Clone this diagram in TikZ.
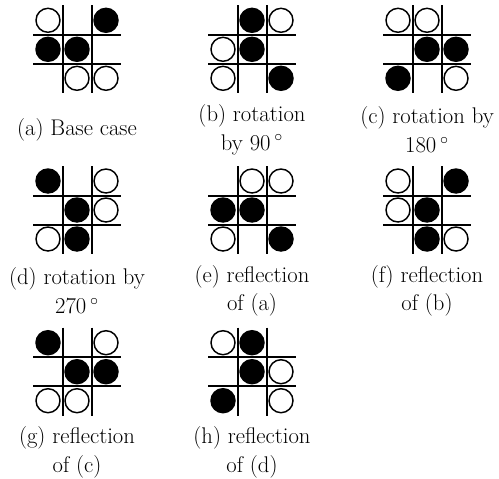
\documentclass[tikz,border=0pt]{standalone}
\usepackage{tikz}

\begin{document}
\begin{tikzpicture}[x=0.75pt,y=-0.75pt,
  boardline/.style={line width=1.5pt},
  bstone/.style={fill=black, draw=black, line width=1.1pt},
  wstone/.style={fill=white, draw=black, line width=1.1pt},
  caption/.style={align=center, font=\fontsize{17}{21.4}\selectfont, inner sep=0pt}]
\useasboundingbox (0,0) rectangle (499,478);
% (a)
\begin{scope}[shift={(77,49.3)}]
\draw[boardline] (-14.5,-44) -- (-14.5,44) (14.5,-44) -- (14.5,44);
\draw[boardline] (-44,-14.5) -- (44,-14.5) (-44,14.5) -- (44,14.5);
\filldraw[wstone] (-29,-29) circle (12);
\filldraw[bstone] (29,-29) circle (12);
\filldraw[bstone] (-29,0) circle (12);
\filldraw[bstone] (0,0) circle (12);
\filldraw[wstone] (0,29) circle (12);
\filldraw[wstone] (29,29) circle (12);
\end{scope}
\node[caption] (cap-a) at (77,129.8) {(a) Base case};
% (b)
\begin{scope}[shift={(252,49.3)}]
\draw[boardline] (-14.5,-44) -- (-14.5,44) (14.5,-44) -- (14.5,44);
\draw[boardline] (-44,-14.5) -- (44,-14.5) (-44,14.5) -- (44,14.5);
\filldraw[bstone] (0,-29) circle (12);
\filldraw[wstone] (29,-29) circle (12);
\filldraw[wstone] (-29,0) circle (12);
\filldraw[bstone] (0,0) circle (12);
\filldraw[wstone] (-29,29) circle (12);
\filldraw[bstone] (29,29) circle (12);
\end{scope}
\node[caption] (cap-b) at (252,129.8) {(b) rotation\\by 90\,$^\circ$};
% (c)
\begin{scope}[shift={(427,49.3)}]
\draw[boardline] (-14.5,-44) -- (-14.5,44) (14.5,-44) -- (14.5,44);
\draw[boardline] (-44,-14.5) -- (44,-14.5) (-44,14.5) -- (44,14.5);
\filldraw[wstone] (-29,-29) circle (12);
\filldraw[wstone] (0,-29) circle (12);
\filldraw[bstone] (0,0) circle (12);
\filldraw[bstone] (29,0) circle (12);
\filldraw[bstone] (-29,29) circle (12);
\filldraw[wstone] (29,29) circle (12);
\end{scope}
\node[caption] (cap-c) at (427,129.8) {(c) rotation by\\180\,$^\circ$};
% (d)
\begin{scope}[shift={(77,210)}]
\draw[boardline] (-14.5,-44) -- (-14.5,44) (14.5,-44) -- (14.5,44);
\draw[boardline] (-44,-14.5) -- (44,-14.5) (-44,14.5) -- (44,14.5);
\filldraw[bstone] (-29,-29) circle (12);
\filldraw[wstone] (29,-29) circle (12);
\filldraw[bstone] (0,0) circle (12);
\filldraw[wstone] (29,0) circle (12);
\filldraw[wstone] (-29,29) circle (12);
\filldraw[bstone] (0,29) circle (12);
\end{scope}
\node[caption] (cap-d) at (77,290.8) {(d) rotation by\\270\,$^\circ$};
% (e)
\begin{scope}[shift={(252,210)}]
\draw[boardline] (-14.5,-44) -- (-14.5,44) (14.5,-44) -- (14.5,44);
\draw[boardline] (-44,-14.5) -- (44,-14.5) (-44,14.5) -- (44,14.5);
\filldraw[wstone] (0,-29) circle (12);
\filldraw[wstone] (29,-29) circle (12);
\filldraw[bstone] (-29,0) circle (12);
\filldraw[bstone] (0,0) circle (12);
\filldraw[wstone] (-29,29) circle (12);
\filldraw[bstone] (29,29) circle (12);
\end{scope}
\node[caption] (cap-e) at (252,290.8) {(e) reflection\\of (a)};
% (f)
\begin{scope}[shift={(427,210)}]
\draw[boardline] (-14.5,-44) -- (-14.5,44) (14.5,-44) -- (14.5,44);
\draw[boardline] (-44,-14.5) -- (44,-14.5) (-44,14.5) -- (44,14.5);
\filldraw[wstone] (-29,-29) circle (12);
\filldraw[bstone] (29,-29) circle (12);
\filldraw[wstone] (-29,0) circle (12);
\filldraw[bstone] (0,0) circle (12);
\filldraw[bstone] (0,29) circle (12);
\filldraw[wstone] (29,29) circle (12);
\end{scope}
\node[caption] (cap-f) at (427,290.8) {(f) reflection\\of (b)};
% (g)
\begin{scope}[shift={(77,371.7)}]
\draw[boardline] (-14.5,-44) -- (-14.5,44) (14.5,-44) -- (14.5,44);
\draw[boardline] (-44,-14.5) -- (44,-14.5) (-44,14.5) -- (44,14.5);
\filldraw[bstone] (-29,-29) circle (12);
\filldraw[wstone] (29,-29) circle (12);
\filldraw[bstone] (0,0) circle (12);
\filldraw[bstone] (29,0) circle (12);
\filldraw[wstone] (-29,29) circle (12);
\filldraw[wstone] (0,29) circle (12);
\end{scope}
\node[caption] (cap-g) at (77,452.5) {(g) reflection\\of (c)};
% (h)
\begin{scope}[shift={(252,371.7)}]
\draw[boardline] (-14.5,-44) -- (-14.5,44) (14.5,-44) -- (14.5,44);
\draw[boardline] (-44,-14.5) -- (44,-14.5) (-44,14.5) -- (44,14.5);
\filldraw[wstone] (-29,-29) circle (12);
\filldraw[bstone] (0,-29) circle (12);
\filldraw[bstone] (0,0) circle (12);
\filldraw[wstone] (29,0) circle (12);
\filldraw[bstone] (-29,29) circle (12);
\filldraw[wstone] (29,29) circle (12);
\end{scope}
\node[caption] (cap-h) at (252,452.5) {(h) reflection\\of (d)};
\end{tikzpicture}
\end{document}
